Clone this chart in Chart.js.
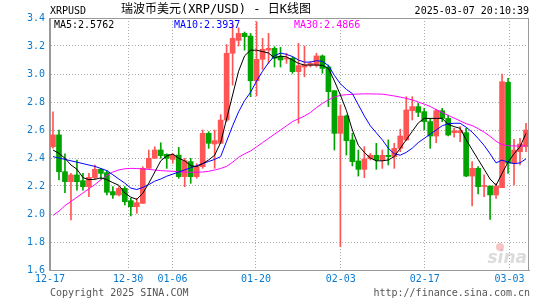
<!DOCTYPE html>
<html lang="zh-CN">
<head>
<meta charset="UTF-8">
<title>XRPUSD 日K线图</title>
<script src="https://cdn.jsdelivr.net/npm/chart.js@4.4.9/dist/chart.umd.min.js"></script>
<style>
    html, body { margin: 0; padding: 0; background: #fff; }
    #box { width: 545px; height: 300px; }
</style>
</head>
<body>
<div id="box"><canvas id="kline" width="545" height="300"></canvas></div>
<script>
    // 日K数据 (12-17 起, 每天一根)
    var opens = [2.48, 2.565, 2.302, 2.231, 2.279, 2.238, 2.195, 2.26, 2.319, 2.295,
        2.16, 2.136, 2.183, 2.095, 2.052, 2.076, 2.326, 2.398, 2.457, 2.426,
        2.39, 2.421, 2.267, 2.374, 2.267, 2.338, 2.576, 2.50, 2.505, 2.671,
        3.148, 3.24, 3.29, 3.271, 2.952, 3.105, 3.171, 3.183, 3.124, 3.107,
        3.112, 3.017, 3.05, 3.064, 3.064, 3.129, 3.05, 2.881, 2.576, 2.70,
        2.529, 2.379, 2.319, 2.395, 2.419, 2.386, 2.419, 2.41, 2.469, 2.529,
        2.738, 2.767, 2.731, 2.66, 2.557, 2.738, 2.683, 2.581, 2.581, 2.581,
        2.271, 2.326, 2.197, 2.20, 2.136, 2.188, 2.94, 2.362, 2.445, 2.481]
    var closes = [2.565, 2.302, 2.231, 2.279, 2.231, 2.195, 2.262, 2.319, 2.29, 2.155,
        2.136, 2.183, 2.088, 2.052, 2.081, 2.326, 2.398, 2.457, 2.417, 2.398,
        2.421, 2.267, 2.381, 2.267, 2.338, 2.576, 2.505, 2.524, 2.671, 3.148,
        3.255, 3.29, 3.267, 2.952, 3.105, 3.176, 3.183, 3.112, 3.10, 3.112,
        3.017, 3.06, 3.064, 3.076, 3.129, 3.04, 2.874, 2.576, 2.70, 2.524,
        2.374, 2.319, 2.393, 2.419, 2.386, 2.419, 2.41, 2.469, 2.557, 2.743,
        2.767, 2.726, 2.66, 2.557, 2.738, 2.683, 2.564, 2.595, 2.595, 2.271,
        2.326, 2.195, 2.20, 2.136, 2.20, 2.945, 2.362, 2.457, 2.50, 2.60]
    var highs = [2.73, 2.60, 2.43, 2.29, 2.386, 2.29, 2.29, 2.35, 2.326, 2.31,
        2.195, 2.195, 2.195, 2.112, 2.112, 2.338, 2.457, 2.48, 2.509, 2.43,
        2.433, 2.476, 2.398, 2.398, 2.36, 2.60, 2.588, 2.60, 2.71, 3.21,
        3.36, 3.33, 3.30, 3.29, 3.374, 3.255, 3.29, 3.195, 3.19, 3.148,
        3.124, 3.219, 3.20, 3.088, 3.148, 3.136, 3.064, 2.881, 2.779, 2.707,
        2.576, 2.457, 2.481, 2.433, 2.505, 2.457, 2.529, 2.505, 2.605, 2.838,
        2.838, 2.79, 2.755, 2.683, 2.748, 2.755, 2.707, 2.612, 2.624, 2.612,
        2.374, 2.338, 2.279, 2.20, 2.219, 3.0, 2.969, 2.533, 2.54, 2.648]
    var lows = [2.47, 2.243, 2.153, 1.957, 2.171, 2.171, 2.124, 2.248, 2.248, 2.136,
        2.112, 2.129, 2.064, 1.986, 2.005, 2.076, 2.326, 2.398, 2.398, 2.326,
        2.362, 2.255, 2.195, 2.219, 2.255, 2.326, 2.469, 2.326, 2.505, 2.66,
        2.92, 3.20, 3.17, 2.838, 2.843, 3.033, 3.076, 3.05, 3.05, 3.076,
        3.005, 2.648, 2.98, 3.05, 3.05, 3.005, 2.767, 2.457, 1.767, 2.421,
        2.343, 2.271, 2.26, 2.386, 2.319, 2.326, 2.35, 2.326, 2.445, 2.524,
        2.671, 2.695, 2.60, 2.469, 2.509, 2.66, 2.557, 2.548, 2.517, 2.267,
        2.057, 2.143, 2.124, 1.962, 2.112, 2.188, 2.29, 2.207, 2.35, 2.445]

    // 均线
    var ma5 = [2.457, 2.433, 2.398, 2.35, 2.32, 2.26, 2.245, 2.248, 2.258, 2.245,
        2.224, 2.205, 2.15, 2.12, 2.105, 2.148, 2.22, 2.30, 2.38, 2.415,
        2.428, 2.398, 2.38, 2.345, 2.338, 2.36, 2.386, 2.42, 2.51, 2.68,
        2.85, 3.02, 3.13, 3.17, 3.17, 3.16, 3.15, 3.115, 3.128, 3.122,
        3.10, 3.076, 3.064, 3.064, 3.064, 3.062, 3.04, 2.95, 2.85, 2.74,
        2.60, 2.49, 2.44, 2.40, 2.38, 2.38, 2.386, 2.41, 2.47, 2.53,
        2.59, 2.65, 2.683, 2.683, 2.683, 2.683, 2.64, 2.624, 2.612, 2.53,
        2.46, 2.39, 2.32, 2.25, 2.205, 2.29, 2.37, 2.43, 2.48, 2.576]
    var ma10 = [2.41, 2.40, 2.39, 2.38, 2.37, 2.36, 2.35, 2.34, 2.325, 2.31,
        2.28, 2.25, 2.22, 2.185, 2.175, 2.19, 2.21, 2.235, 2.25, 2.27,
        2.285, 2.30, 2.315, 2.33, 2.345, 2.36, 2.375, 2.39, 2.41, 2.52,
        2.63, 2.73, 2.81, 2.87, 2.95, 3.02, 3.08, 3.13, 3.15, 3.14,
        3.125, 3.10, 3.085, 3.085, 3.095, 3.09, 3.06, 2.99, 2.93, 2.89,
        2.86, 2.78, 2.70, 2.63, 2.58, 2.53, 2.47, 2.43, 2.42, 2.44,
        2.47, 2.51, 2.54, 2.57, 2.60, 2.63, 2.645, 2.648, 2.648, 2.62,
        2.585, 2.54, 2.49, 2.43, 2.365, 2.385, 2.37, 2.36, 2.365, 2.394]
    var ma30 = [1.99, 2.02, 2.06, 2.09, 2.12, 2.15, 2.18, 2.21, 2.245, 2.275,
        2.30, 2.315, 2.323, 2.326, 2.325, 2.322, 2.318, 2.314, 2.31, 2.307,
        2.305, 2.302, 2.30, 2.298, 2.298, 2.30, 2.305, 2.314, 2.325, 2.34,
        2.37, 2.405, 2.43, 2.45, 2.48, 2.51, 2.54, 2.57, 2.60, 2.63,
        2.66, 2.68, 2.70, 2.725, 2.76, 2.79, 2.815, 2.835, 2.848, 2.852,
        2.855, 2.857, 2.858, 2.858, 2.857, 2.856, 2.85, 2.843, 2.835, 2.826,
        2.815, 2.80, 2.785, 2.768, 2.745, 2.725, 2.705, 2.685, 2.665, 2.645,
        2.632, 2.61, 2.585, 2.555, 2.52, 2.495, 2.487, 2.486, 2.485, 2.487]

    // x轴刻度 (位置为K线序号) 和文字
    var tickPos = [-0.5, 12.55, 19.95, 33.9, 48.05, 62.1, 76.25]
    var tickLabels = ['12-17', '12-30', '01-06', '01-20', '02-03', '02-17', '03-03']
    var legendNames = ['MA5', 'MA10', 'MA30']
    var legendValues = ['2.5762', '2.3937', '2.4866']

    var RED = '#ff5555'
    var GREEN = '#00a300'
    var MONO = '"DejaVu Sans Mono", monospace'

    var colors = []
    var bodies = []
    var wicks = []
    for (var i = 0; i < opens.length; i++) {
        colors.push(closes[i] >= opens[i] ? RED : GREEN)
        bodies.push({ x: i, y: [opens[i], closes[i]] })
        wicks.push({ x: i, y: [lows[i], highs[i]] })
    }

    function toXY(arr) {
        return arr.map(function (v, i) { return { x: i, y: v } })
    }

    var textPlugin = {
        id: 'sinaText',
        beforeDatasetsDraw: function (chart) {
            var ctx = chart.ctx
            ctx.save()
            ctx.font = 'italic bold 17px "DejaVu Sans", sans-serif'
            ctx.fillStyle = 'rgba(190,190,190,0.55)'
            ctx.textAlign = 'right'
            ctx.textBaseline = 'middle'
            ctx.fillText('sina', 527, 259)
            ctx.fillStyle = 'rgba(240,140,140,0.5)'
            ctx.beginPath()
            ctx.arc(500, 247, 4, 0, Math.PI * 2)
            ctx.fill()
            ctx.restore()
        },
        afterDraw: function (chart) {
            var ctx = chart.ctx
            var a = chart.chartArea
            ctx.save()
            ctx.strokeStyle = '#999'
            ctx.lineWidth = 1
            ctx.strokeRect(Math.round(a.left) - 0.5, Math.round(a.top) + 0.5,
                Math.round(a.right - a.left), Math.round(a.bottom - a.top))

            ctx.textBaseline = 'middle'
            ctx.fillStyle = '#000'
            ctx.font = '10px ' + MONO
            ctx.textAlign = 'left'
            ctx.fillText('XRPUSD', 50, 11)
            ctx.font = '12px "DejaVu Sans Mono", "Noto Sans CJK SC", sans-serif'
            ctx.fillText('瑞波币美元(XRP/USD) - 日K线图', 121, 10)
            ctx.font = '10px ' + MONO
            ctx.textAlign = 'right'
            ctx.fillText('2025-03-07 20:10:39', 529, 11)

            // 均线图例
            var legendX = [54, 174, 294]
            var legendColors = ['#000', '#0000ff', '#ff00ff']
            ctx.textAlign = 'left'
            for (var k = 0; k < legendNames.length; k++) {
                ctx.fillStyle = legendColors[k]
                ctx.fillText(legendNames[k] + ':' + legendValues[k], legendX[k], 25)
            }

            ctx.fillStyle = '#555'
            ctx.fillText('Copyright 2025 SINA.COM', 50, 293)
            ctx.textAlign = 'right'
            ctx.fillText('http://finance.sina.com.cn', 530, 293)
            ctx.restore()
        }
    }

    var config = {
        type: 'bar',
        data: {
            datasets: [
                { type: 'line', label: 'MA5', data: toXY(ma5), borderColor: '#000', borderWidth: 1, pointRadius: 0, tension: 0, order: 0 },
                { type: 'line', label: 'MA10', data: toXY(ma10), borderColor: '#0000ff', borderWidth: 1, pointRadius: 0, tension: 0, order: 0 },
                { type: 'line', label: 'MA30', data: toXY(ma30), borderColor: '#ff00ff', borderWidth: 1, pointRadius: 0, tension: 0, order: 0 },
                { label: 'body', data: bodies, backgroundColor: colors, barThickness: 5, minBarLength: 1, grouped: false, order: 1 },
                { label: 'wick', data: wicks, backgroundColor: colors, barThickness: 1, grouped: false, order: 2 }
            ]
        },
        options: {
            responsive: false,
            animation: false,
            layout: { padding: { top: 18, right: 16, left: 0, bottom: 0 } },
            plugins: {
                legend: { display: false },
                tooltip: { enabled: false }
            },
            scales: {
                x: {
                    type: 'linear',
                    min: -0.5,
                    max: 79.5,
                    offset: false,
                    afterBuildTicks: function (s) {
                        s.ticks = tickPos.map(function (v) { return { value: v } })
                    },
                    afterFit: function (s) { s.height = 30 },
                    ticks: {
                        autoSkip: false,
                        maxRotation: 0,
                        padding: 3,
                        color: '#0a7ad0',
                        font: { family: MONO, size: 10 },
                        callback: function (v, i) { return tickLabels[i] }
                    },
                    grid: { offset: false, color: '#aaa', drawTicks: false },
                    border: { color: '#999', dash: [1, 2] }
                },
                y: {
                    min: 1.6,
                    max: 3.4,
                    afterFit: function (s) { s.width = 50 },
                    ticks: {
                        stepSize: 0.2,
                        padding: 5,
                        color: '#0a7ad0',
                        font: { family: MONO, size: 10 },
                        callback: function (v) { return v.toFixed(1) }
                    },
                    grid: { color: '#aaa', drawTicks: false },
                    border: { color: '#999', dash: [1, 2] }
                }
            }
        },
        plugins: [textPlugin]
    }

    var grafico = new Chart(document.getElementById('kline'), config)
</script>
</body>
</html>
